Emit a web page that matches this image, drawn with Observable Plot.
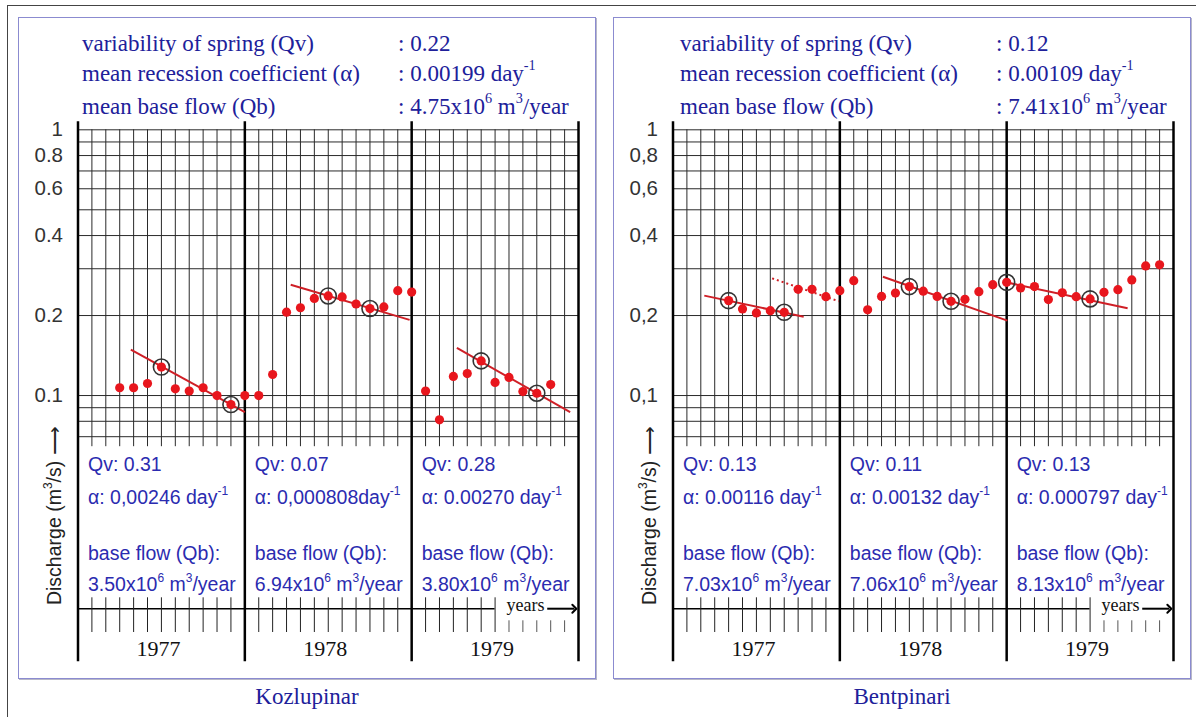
<!DOCTYPE html>
<html><head><meta charset="utf-8">
<script src="https://cdn.jsdelivr.net/npm/d3@7"></script>
<script src="https://cdn.jsdelivr.net/npm/@observablehq/plot@0.6"></script>
<style>
html,body{margin:0;padding:0;background:#fff;}
#page{position:relative;width:1196px;height:717px;overflow:hidden;}
#frame{position:absolute;left:7px;top:5px;width:1200px;height:720px;border-top:1.5px solid #444;border-left:1.5px solid #444;}
.panel{position:absolute;top:17px;width:578px;height:662px;}
.panel svg{position:absolute;left:0;top:0;}
.pborder{position:absolute;left:0;top:0;right:0;bottom:0;border:1.5px solid #8b8bd0;box-sizing:border-box;pointer-events:none;box-shadow:1px 1px 0 #b8b8c8;}
.hdr{position:absolute;font-family:"Liberation Serif","Times New Roman",serif;font-size:23px;line-height:23px;color:#20209a;white-space:nowrap;}
.hdr sup{font-size:62%;vertical-align:0.75em;line-height:0;}
.caption{position:absolute;top:685px;width:578px;text-align:center;font-family:"Liberation Serif","Times New Roman",serif;font-size:23px;line-height:23px;color:#20209a;}
</style></head>
<body>
<div id="page">
  <div id="frame"></div>
  <div class="panel" id="p1" style="left:18px"></div>
  <div class="panel" id="p2" style="left:613px"></div>
  <div class="caption" style="left:18px">Kozlupinar</div>
  <div class="caption" style="left:613px">Bentpinari</div>
</div>
<script>
// ---------- shared ----------
const years = ["1977", "1978", "1979"];
const gridQ = [0.07, 0.08, 0.09, 0.1, 0.2, 0.3, 0.4, 0.5, 0.6, 0.7, 0.8, 0.9, 1];
const tickQ = [0.1, 0.2, 0.4, 0.6, 0.8, 1];
const summaryLabels = ["variability of spring (Qv)", "mean recession coefficient (\u03b1)", "mean base flow (Qb)"];

// ---------- Kozlupinar ----------
const kozMonth = [3,4,5,6,7,8,9,10,11,12,13,14,15,16,17,18,19,20,21,22,23,24,25,26,27,28,29,30,31,32,33,34];
const kozQ = [0.107,0.107,0.111,0.128,0.106,0.104,0.107,0.100,0.0925,0.100,0.100,0.120,0.206,0.214,0.232,0.237,
              0.235,0.221,0.2125,0.2155,0.248,0.245,0.104,0.081,0.118,0.121,0.135,0.112,0.117,0.1035,0.102,0.110];
const kozCircled = [6, 11, 18, 21, 29, 33];
const kozRecStartMonth = [3.8, 15.3, 27.25];
const kozRecStartQ = [0.149, 0.261, 0.151];
const kozRecEndMonth = [12, 23.85, 35.4];
const kozRecEndQ = [0.0866, 0.1926, 0.0866];
const kozQv = ["0.31", "0.07", "0.28"];
const kozAlpha = ["0,00246 day\u207b\u00b9", "0,000808day\u207b\u00b9", "0.00270 day\u207b\u00b9"];
const kozQb = ["3.50", "6.94", "3.80"];
const kozSummary = ["0.22", "0.00199", "4.75"];

// ---------- Bentpinari ----------
const bentMonth = [4,5,6,7,8,9,10,11,12,13,14,15,16,17,18,19,20,21,22,23,24,25,26,27,28,29,30,31,32,33,34,35];
const bentQ = [0.2276,0.2118,0.2046,0.2087,0.2057,0.251,0.251,0.2356,0.248,0.2706,0.2101,0.236,0.243,0.257,0.247,0.236,
               0.2263,0.2301,0.246,0.2614,0.2667,0.254,0.257,0.2296,0.2437,0.2356,0.231,0.2445,0.2503,0.2723,0.3073,0.3105];
const bentCircled = [4, 8, 17, 20, 24, 30];
const bentRecStartMonth = [2.25, 15.1, 24.2];
const bentRecStartQ = [0.2377, 0.28, 0.265];
const bentRecEndMonth = [9.4, 24.05, 32.7];
const bentRecEndQ = [0.198, 0.1914, 0.213];
const bentDotStartMonth = [7.13];
const bentDotStartQ = [0.276];
const bentDotEndMonth = [11.92];
const bentDotEndQ = [0.2263];
const bentQv = ["0.13", "0.11", "0.13"];
const bentAlpha = ["0.00116 day\u207b\u00b9", "0.00132 day\u207b\u00b9", "0.000797 day\u207b\u00b9"];
const bentQb = ["7.03", "7.06", "8.13"];
const bentSummary = ["0.12", "0.00109", "7.41"];

const RED = "#e8161d", LINE = "#cf1f26", BLUE = "#2b2bb0";
const SANS = "Liberation Sans, Arial, sans-serif", SERIF = "Liberation Serif, Times New Roman, serif";

function segs(m1, q1, m2, q2) { return m1.map((m, i) => ({m1: m, q1: q1[i], m2: m2[i], q2: q2[i]})); }

function makePanel(cfg) {
  const pts = cfg.month.map((m, i) => ({m, q: cfg.q[i]}));
  const circ = cfg.circled.map(m => pts.find(p => p.m === m));
  const solid = segs(cfg.rs, cfg.rq, cfg.re, cfg.req);
  const dotted = cfg.dotted || [];
  const months = d3.range(0, 37);
  const yearIdx = years.map((y, i) => i);
  const bottom = {frameAnchor: "bottom", textAnchor: "start", lineAnchor: "middle"};
  const AFS = 19.5;
  return Plot.plot({
    width: 578, height: 662,
    marginLeft: 59.5, marginRight: 18, marginTop: 112.3, marginBottom: 242.8,
    style: {background: "transparent", overflow: "visible", fontFamily: SANS, fontSize: "20px", color: "#333"},
    x: {domain: [0, 36], axis: null},
    y: {type: "log", domain: [0.07, 1], axis: null},
    marks: [
      Plot.ruleY(gridQ, {stroke: "#2a2a2a", strokeWidth: 1}),
      Plot.ruleX(months, {stroke: "#2a2a2a", strokeWidth: 1, insetBottom: -10}),
      // y tick labels
      Plot.text(tickQ, {y: d => d, text: cfg.fmt, frameAnchor: "left", textAnchor: "end", lineAnchor: "middle", dx: -15, fontFamily: SANS, fontSize: 20.5, fill: "#333"}),
      // years axis
      Plot.ruleY([0.07], {x1: () => 0, x2: () => 30, dy: 172, stroke: "#000", strokeWidth: 1.5}),
      Plot.ruleX(months.filter(m => m <= 30), {stroke: "#222", strokeWidth: 1, insetTop: 468, insetBottom: -195.8}),
      Plot.ruleX(months.filter(m => m > 30 && m < 36), {stroke: "#555", strokeWidth: 1, insetTop: 491, insetBottom: -195.8}),
      Plot.ruleX([0, 12, 24, 36], {stroke: "#000", strokeWidth: 2.5, insetTop: -8, insetBottom: -225}),
      Plot.text(["years"], {x: () => 36, frameAnchor: "bottom", textAnchor: "end", lineAnchor: "middle", dx: -34, dy: 169, fontFamily: SERIF, fontSize: 18, fill: "#111"}),
      Plot.link([0], {x1: () => 33.75, x2: () => 35.7, y1: () => 0.07, y2: () => 0.07, dy: 172, stroke: "#000", strokeWidth: 2, markerEnd: "arrow"}),
      Plot.text(years, {x: (d, i) => i * 12 + 6, text: d => d, frameAnchor: "bottom", lineAnchor: "middle", dx: -3, dy: 212, fontFamily: SERIF, fontSize: 22, fill: "#111"}),
      // annotations per year
      Plot.text(yearIdx, {...bottom, x: i => i * 12, text: i => "Qv: " + cfg.qv[i], dx: 10, dy: 28, fontFamily: SANS, fontSize: AFS, fill: BLUE}),
      Plot.text(yearIdx, {...bottom, x: i => i * 12, text: i => "\u03b1: " + cfg.alpha[i], dx: 10, dy: 61, fontFamily: SANS, fontSize: AFS, fill: BLUE}),
      Plot.text(yearIdx, {...bottom, x: i => i * 12, text: () => "base flow (Qb):", dx: 10, dy: 117, fontFamily: SANS, fontSize: AFS, fill: BLUE}),
      Plot.text(yearIdx, {...bottom, x: i => i * 12, text: i => cfg.qb[i] + "x10\u2076 m\u00b3/year", dx: 10, dy: 148, fontFamily: SANS, fontSize: AFS, fill: BLUE}),
      // axis title
      Plot.text(["Discharge (m\u00b3/s) \u27f6"], {frameAnchor: "bottom-left", textAnchor: "middle", lineAnchor: "middle", rotate: -90, dx: -23, dy: 79, fontFamily: SANS, fontSize: 19.5, fill: "#222"}),
      // data
      Plot.link(solid, {x1: "m1", y1: "q1", x2: "m2", y2: "q2", stroke: LINE, strokeWidth: 2}),
      Plot.link(dotted, {x1: "m1", y1: "q1", x2: "m2", y2: "q2", stroke: LINE, strokeWidth: 2, strokeDasharray: "2,3"}),
      Plot.dot(pts, {x: "m", y: "q", r: 4.6, fill: RED}),
      Plot.dot(circ, {x: "m", y: "q", r: 8, fill: "none", stroke: "#333", strokeWidth: 1.6})
    ]
  });
}

const supMap = {"\u207b": "-", "\u00b9": "1", "\u2076": "6", "\u00b3": "3"};
function fixSup(svg) {
  svg.querySelectorAll("text").forEach(t => {
    const s = t.textContent;
    if (!/[\u207b\u00b9\u2076\u00b3]/.test(s) || t.querySelector("tspan")) return;
    const runs = [];
    for (const ch of s) {
      const sup = ch in supMap;
      const c = sup ? supMap[ch] : ch;
      if (runs.length && runs[runs.length - 1].sup === sup) runs[runs.length - 1].t += c;
      else runs.push({sup, t: c});
    }
    while (t.firstChild) t.removeChild(t.firstChild);
    let up = false;
    for (const r of runs) {
      const ts = document.createElementNS("http://www.w3.org/2000/svg", "tspan");
      ts.textContent = r.t;
      if (r.sup) { ts.setAttribute("font-size", "12"); ts.setAttribute("dy", "-9"); up = true; }
      else if (up) { ts.setAttribute("dy", "9"); up = false; }
      t.appendChild(ts);
    }
  });
}

function header(el, summary, lx, vx) {
  const vals = [
    ": " + summary[0],
    ": " + summary[1] + " day<sup>-1</sup>",
    ": " + summary[2] + "x10<sup>6</sup> m<sup>3</sup>/year"
  ];
  const tops = [15, 45, 78];
  summaryLabels.forEach((lab, i) => {
    const a = document.createElement("div"); a.className = "hdr"; a.style.left = lx + "px"; a.style.top = tops[i] + "px"; a.textContent = lab; el.appendChild(a);
    const b = document.createElement("div"); b.className = "hdr"; b.style.left = vx + "px"; b.style.top = tops[i] + "px"; b.innerHTML = vals[i]; el.appendChild(b);
  });
  const bd = document.createElement("div"); bd.className = "pborder"; el.appendChild(bd);
}

const p1 = makePanel({month: kozMonth, q: kozQ, circled: kozCircled, rs: kozRecStartMonth, rq: kozRecStartQ, re: kozRecEndMonth, req: kozRecEndQ,
  qv: kozQv, alpha: kozAlpha, qb: kozQb, fmt: d => String(d)});
const p2 = makePanel({month: bentMonth, q: bentQ, circled: bentCircled, rs: bentRecStartMonth, rq: bentRecStartQ, re: bentRecEndMonth, req: bentRecEndQ,
  dotted: segs(bentDotStartMonth, bentDotStartQ, bentDotEndMonth, bentDotEndQ),
  qv: bentQv, alpha: bentAlpha, qb: bentQb, fmt: d => String(d).replace(".", ",")});
fixSup(p1); fixSup(p2);
document.getElementById("p1").appendChild(p1);
document.getElementById("p2").appendChild(p2);
header(document.getElementById("p1"), kozSummary, 64, 380);
header(document.getElementById("p2"), bentSummary, 67, 383);
</script>
</body></html>
